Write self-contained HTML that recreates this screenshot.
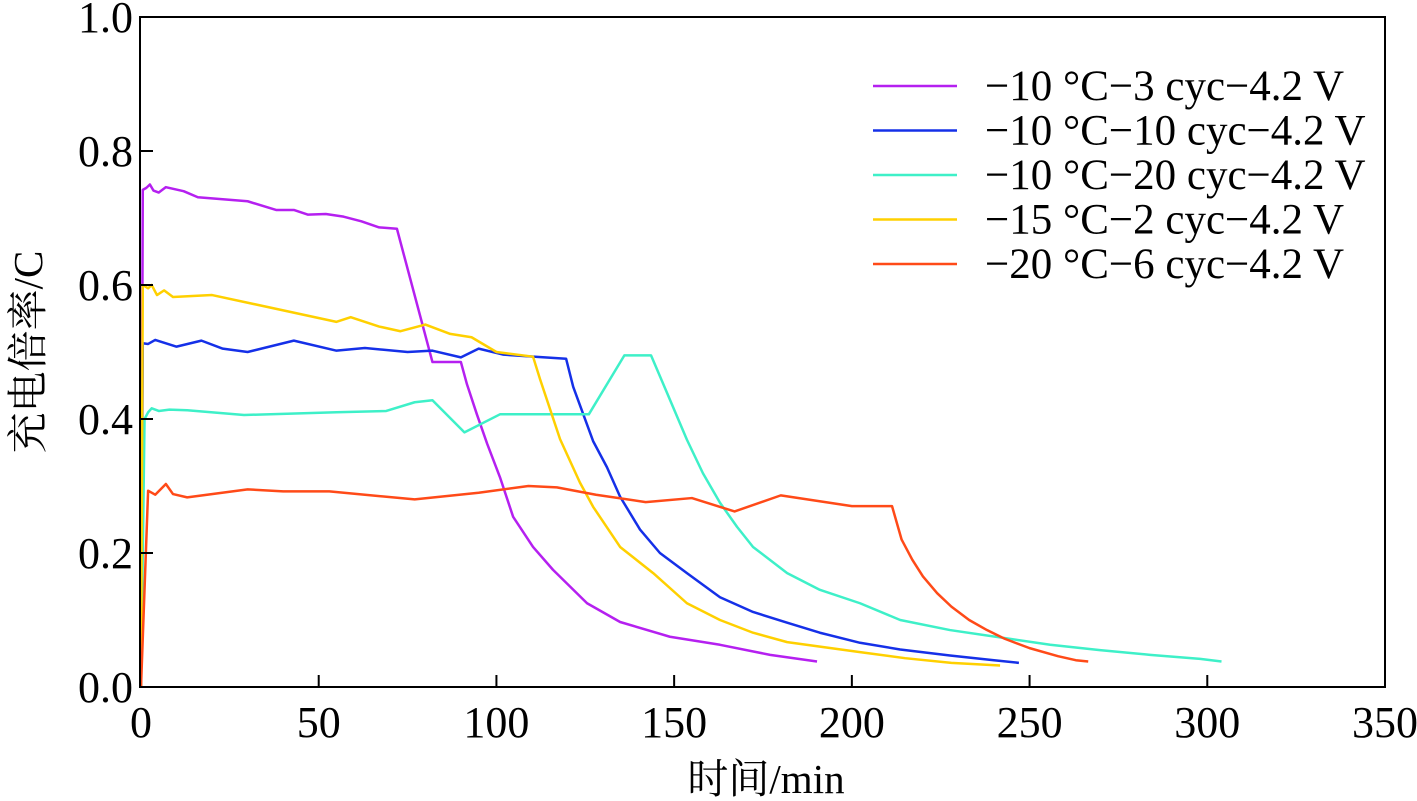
<!DOCTYPE html>
<html><head><meta charset="utf-8"><style>body{margin:0;background:#fff}svg{display:block}text{font-family:"Liberation Serif","Noto Serif CJK SC",serif;fill:#000}</style></head>
<body>
<svg id="chart" width="1417" height="801" viewBox="0 0 1417 801"></svg>
<script>
const xTicks=[0,50,100,150,200,250,300,350];
const yTicks=[0.0,0.2,0.4,0.6,0.8,1.0];
const seriesNames=["−10 °C−3 cyc−4.2 V","−10 °C−10 cyc−4.2 V","−10 °C−20 cyc−4.2 V","−15 °C−2 cyc−4.2 V","−20 °C−6 cyc−4.2 V"];
const seriesColors=["#b520f0","#1530e8","#3ef0c8","#ffd000","#ff4a18"];
const purpleT=[0,0.5,1.5,2.5,3.5,5,7,12,16,30,38,43,47,52,57,62,67,72,82,90,91.7,94.5,97.4,101,104.7,110.3,115.9,125.5,134.8,148.8,162.9,177,190.2];
const purpleV=[0,0.742,0.745,0.75,0.741,0.738,0.746,0.74,0.731,0.725,0.712,0.712,0.705,0.706,0.702,0.695,0.686,0.684,0.485,0.485,0.452,0.407,0.363,0.313,0.254,0.209,0.175,0.125,0.097,0.075,0.063,0.048,0.038];
const blueT=[0,0.5,2,4,10,17,23,30,43,55,63,75,82,90,95,102,119.6,121.6,127.2,131.1,134.8,140.4,146,153.6,162.9,172.2,181.8,191,202.3,213.6,227.6,240,247];
const blueV=[0,0.513,0.512,0.518,0.508,0.517,0.505,0.5,0.517,0.502,0.506,0.5,0.502,0.492,0.505,0.496,0.49,0.448,0.367,0.328,0.284,0.235,0.2,0.17,0.134,0.112,0.096,0.081,0.066,0.056,0.047,0.04,0.036];
const cyanT=[0,1,2,3,5,8,13,29,55,69,77,82,91,101,126,136,143.5,148,153.6,158.1,162.9,167.7,172.2,181.8,191,202.3,213.6,227.6,241.7,255.8,269.8,283.9,298,304];
const cyanV=[0,0.4,0.41,0.416,0.412,0.414,0.413,0.406,0.41,0.412,0.425,0.428,0.38,0.407,0.407,0.495,0.495,0.439,0.369,0.319,0.275,0.239,0.209,0.17,0.145,0.125,0.1,0.085,0.074,0.063,0.055,0.048,0.042,0.038];
const yellowT=[0,0.5,2,3,4.5,6.5,9,20,55,59,67,73,80,87,93,100,110.3,112.3,117.9,123.5,127.2,134.8,144.1,153.6,162.9,172.2,181.8,202.3,215,228,241.7];
const yellowV=[0,0.6,0.595,0.6,0.585,0.592,0.582,0.585,0.545,0.552,0.538,0.531,0.541,0.527,0.522,0.5,0.493,0.459,0.37,0.305,0.269,0.209,0.17,0.125,0.1,0.081,0.067,0.052,0.043,0.036,0.032];
const redT=[0,2,4,7,9,13,30,40,53,77,95,109,117,128,142,155,167,180,200,211.3,214,217,220,224,228,233,238,243,250,258,263,266.5];
const redV=[0,0.293,0.287,0.303,0.288,0.283,0.295,0.292,0.292,0.28,0.29,0.3,0.298,0.287,0.276,0.282,0.262,0.286,0.27,0.27,0.22,0.19,0.165,0.14,0.12,0.1,0.085,0.072,0.058,0.046,0.04,0.038];
const seriesT=[purpleT,blueT,cyanT,yellowT,redT];
const seriesV=[purpleV,blueV,cyanV,yellowV,redV];
const L=141,R=1385,T=17,B=687;
const xS=t=>L+t*(R-L)/350, yS=v=>B-v*(B-T)/1.0;
const svg=document.getElementById('chart');const NS='http://www.w3.org/2000/svg';
function mk(tag,attrs,parent){const e=document.createElementNS(NS,tag);for(const k in attrs)e.setAttribute(k,attrs[k]);(parent||svg).appendChild(e);return e;}
seriesT.forEach((ts,i)=>{
  const p=mk('polyline',{points:ts.map((t,j)=>xS(t)+','+yS(seriesV[i][j])).join(' '),fill:'none',stroke:seriesColors[i],'stroke-width':2.5,'stroke-linejoin':'round'});
  
  
});
const frame=mk('rect',{x:L-1,y:T,width:R-L+1,height:B-T,fill:'none',stroke:'#000','stroke-width':2});


xTicks.forEach(t=>{
  const x=xS(t);
  if(t>0&&t<350){const tk=mk('line',{x1:x,x2:x,y1:B,y2:B-12,stroke:'#000','stroke-width':2});
  
  }
  const tx=mk('text',{x:x,y:B+50,'text-anchor':'middle','font-size':44});tx.textContent=t;
  
  
});
yTicks.forEach(v=>{
  const y=yS(v);
  if(v>0&&v<1){const tk=mk('line',{x1:L,x2:L+12,y1:y,y2:y,stroke:'#000','stroke-width':2});
  
  }
  const tx=mk('text',{x:L-8,y:y+15,'text-anchor':'end','font-size':44});tx.textContent=v.toFixed(1);
  
  
});
const xt=mk('text',{x:766,y:793,'text-anchor':'middle','font-size':41});xt.textContent='时间/min';


const yt=mk('text',{x:0,y:0,'text-anchor':'middle','font-size':41,transform:'translate(42,352) rotate(-90)'});yt.textContent='充电倍率/C';


seriesNames.forEach((n,i)=>{
  const y=86+i*44.5;
  const g=mk('g',{});
  
  
  mk('line',{x1:873,x2:957,y1:y,y2:y,stroke:seriesColors[i],'stroke-width':2.5},g);
  const tx=mk('text',{x:985,y:y+14,'font-size':43},g);tx.textContent=n;
});
</script>
</body></html>
